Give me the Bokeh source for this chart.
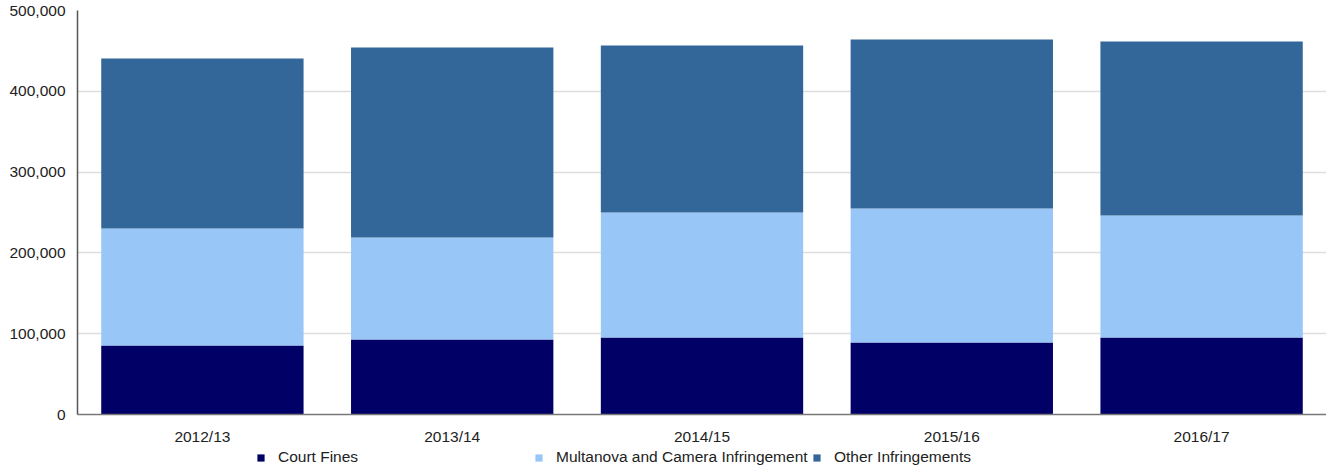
from bokeh.plotting import figure
from bokeh.layouts import column
from bokeh.models import ColumnDataSource, FactorRange, Range1d, Legend, NumeralTickFormatter, FixedTicker
from bokeh.embed import file_html
from bokeh.resources import INLINE

years = ["2012/13", "2013/14", "2014/15", "2015/16", "2016/17"]
series = ["Court Fines", "Multanova and Camera Infringement", "Other Infringements"]
court_fines = [85400, 92800, 95300, 89100, 95300]
multanova = [144800, 126200, 154700, 165900, 151000]
other = [210400, 235200, 206700, 209100, 215300]
colors = ["#000066", "#98c7f7", "#336699"]
y_ticks = [0, 100000, 200000, 300000, 400000, 500000]

source = ColumnDataSource(data={
    "year": years,
    series[0]: court_fines,
    series[1]: multanova,
    series[2]: other,
})

FONT = "Liberation Sans"
FS = "15.5px"
W = 1326

p = figure(
    x_range=FactorRange(*years, range_padding=0),
    y_range=Range1d(0, 500000),
    width=W, height=448,
    output_backend="svg", toolbar_location=None,
    min_border_left=77, min_border_right=0, min_border_top=10, min_border_bottom=34,
)
p.outline_line_color = None
p.background_fill_color = "white"
p.border_fill_color = "white"

p.vbar_stack(series, x="year", width=0.81, color=colors, source=source, line_color=None)

p.xgrid.grid_line_color = None
p.ygrid.grid_line_color = "#dddddd"
p.ygrid.grid_line_width = 1.5
p.ygrid.ticker = FixedTicker(ticks=y_ticks)

for ax in (p.xaxis, p.yaxis):
    ax.major_tick_line_color = None
    ax.minor_tick_line_color = None
    ax.major_tick_out = 0
    ax.major_tick_in = 0
    ax.minor_tick_out = 0
    ax.minor_tick_in = 0
    ax.axis_line_width = 1.5
    ax.major_label_text_font = FONT
    ax.major_label_text_font_size = FS
    ax.major_label_text_color = "#222222"

p.yaxis.ticker = FixedTicker(ticks=y_ticks)
p.yaxis.formatter = NumeralTickFormatter(format="0,0")
p.yaxis.axis_line_color = "#555555"
p.yaxis.major_label_standoff = 12

p.xaxis.axis_line_color = "#777777"
p.xaxis.major_label_standoff = 13

# legend strip below the chart (its bars lie outside its view, only the keys show)
lg = figure(
    width=W, height=18,
    x_range=FactorRange(*years, range_padding=0), y_range=Range1d(1000000, 2000000),
    output_backend="svg", toolbar_location=None,
    x_axis_type=None, y_axis_type=None,
    min_border_left=0, min_border_right=0, min_border_top=0, min_border_bottom=0,
)
lg.outline_line_color = None
lg.xgrid.grid_line_color = None
lg.ygrid.grid_line_color = None
lg.background_fill_color = "white"
lg.border_fill_color = "white"
keys = lg.vbar_stack(series, x="year", width=0.81, color=colors, source=source, line_color=None)

legend = Legend(
    items=[(s, [r]) for s, r in zip(series, keys)],
    orientation="horizontal",
    location=(179, 0),
    glyph_width=9, glyph_height=9,
    label_standoff=13, label_width=256, label_height=9, spacing=0,
    padding=0, margin=0,
    border_line_color=None, background_fill_alpha=0,
    label_text_font=FONT, label_text_font_size=FS, label_text_color="#222222",
)
lg.add_layout(legend, "center")

layout = column(p, lg, spacing=0)
open("out.html", "w").write(file_html(layout, INLINE))
